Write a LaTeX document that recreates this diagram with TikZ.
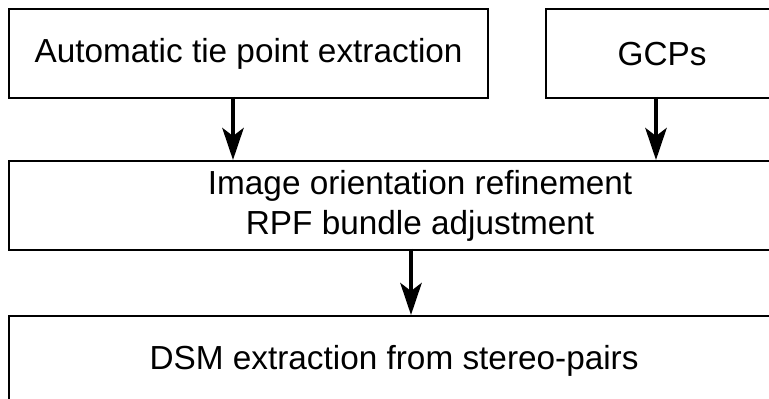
\documentclass[tikz,border=0pt]{standalone}
\usepackage{fontspec}
\setmainfont{Liberation Sans}
\usepackage{tikz}
\usetikzlibrary{positioning, arrows.meta}

\begin{document}
\begin{tikzpicture}[
    x=0.75pt, y=-0.75pt,
    block/.style={rectangle, draw=black, line width=1.6pt, anchor=north west, inner sep=0pt, font=\fontsize{25}{30}\selectfont, align=center},
    arrow/.style={-{Stealth[length=24pt, width=16pt, inset=6pt]}, line width=3pt}
]
    \useasboundingbox (0,0) rectangle (769,399);
    \clip (0,0) rectangle (769,399);

    % Inputs
    \node[block, minimum width=479*0.75pt, minimum height=89*0.75pt] (tie) at (8, 8) {Automatic tie point extraction};
    \node[block, minimum width=232*0.75pt, minimum height=89*0.75pt] (gcp) at (545, 8) {GCPs};

    % Refinement
    \node[block, minimum width=822*0.75pt, minimum height=89*0.75pt] (refine) at (8, 160) {Image orientation refinement\\RPF bundle adjustment};

    % Output
    \node[block, minimum width=770*0.75pt, minimum height=90*0.75pt] (dsm) at (8, 315) {DSM extraction from stereo-pairs};

    % Connectors
    \coordinate (a1) at (233, 97);
    \coordinate (a2) at (656, 97);
    \coordinate (a3) at (411, 249);
    \draw[arrow] (a1) -- (a1 |- refine.north);
    \draw[arrow] (a2) -- (a2 |- refine.north);
    \draw[arrow] (a3) -- (a3 |- dsm.north);
\end{tikzpicture}
\end{document}
